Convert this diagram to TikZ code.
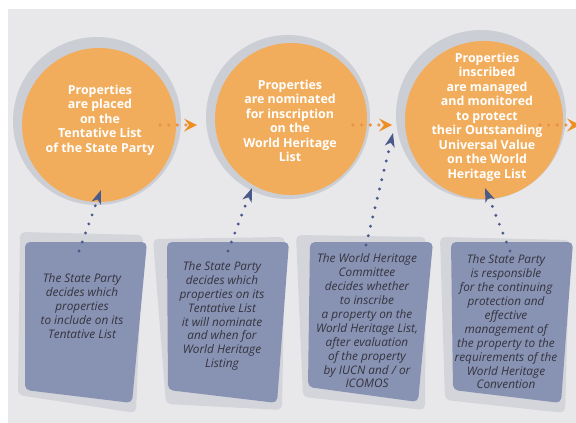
\documentclass[tikz,border=0pt]{standalone}
\usepackage{fontspec}
\setmainfont{Open Sans}
\usetikzlibrary{arrows.meta}
\definecolor{paper}{HTML}{E8E8EA}
\definecolor{ringgray}{HTML}{CBCED4}
\definecolor{discorange}{HTML}{F2AD5C}
\definecolor{floworange}{HTML}{EE8F22}
\definecolor{dotorange}{HTML}{E99444}
\definecolor{cardgray}{HTML}{D3D5DA}
\definecolor{cardblue}{HTML}{8892B3}
\definecolor{cardink}{HTML}{34343E}
\definecolor{linknavy}{HTML}{4A5A8A}
\begin{document}
\begin{tikzpicture}[
			x=1pt, y=-1pt,
			ring/.style={circle, fill=ringgray, inner sep=0pt},
			disc/.style={circle, fill=discorange, inner sep=0pt},
			disctext/.style={align=center, text=white, font=\bfseries\fontsize{12.4}{14.5}\selectfont},
			cardshadow/.style={fill=cardgray, rounded corners=5pt},
			card/.style={fill=cardblue, rounded corners=5pt},
			cardtext/.style={align=center, text=cardink, font=\itshape\fontsize{11.8}{13.9}\selectfont},
			flow/.style={draw=dotorange, line width=3.6pt, line cap=round, dash pattern=on 0pt off 8.6pt,
				-{Stealth[length=13pt, width=13pt, inset=5pt, line width=0pt, fill=floworange, color=floworange]}},
			link/.style={draw=linknavy, line width=3.2pt, line cap=round, dash pattern=on 0pt off 9.6pt,
				-{Stealth[length=14pt, width=10pt, inset=4pt, line width=0pt]}}
			]
			\useasboundingbox (0,0) rectangle (576,423);
			\clip (0,0) rectangle (576,423);
			\fill[white] (0,0) rectangle (576,423);
			\fill[paper] (8,9) rectangle (576,423);
			
			% Circles
			\node[ring, minimum size=168pt] (r1) at (97,121) {};
			\node[ring, minimum size=164pt] (r2) at (288,117) {};
			\node[ring, minimum size=170pt] (r3) at (481,115) {};
			\node[disc, minimum size=154pt] (c1) at (99,125) {};
			\node[disc, minimum size=152pt] (c2) at (291,119) {};
			\node[disc, minimum size=158pt] (c3) at (484,120) {};
			\node[disctext] (t1) at (100,120) {Properties\\are placed\\on the\\Tentative List\\of the State Party};
			\node[disctext] (t2) at (290,121) {Properties\\are nominated\\for inscription\\on the\\World Heritage\\List};
			\node[disctext] (t3) at (487,117) {Properties\\inscribed\\are managed\\and monitored\\to protect\\their Outstanding\\Universal Value\\on the World\\Heritage List};
			
			% Cards
			\fill[cardshadow] (20,232) -- (143,235) -- (136,413) -- (18,395) -- cycle;
			\fill[cardshadow] (153,239) -- (285,237) -- (282,410) -- (166,404) -- cycle;
			\fill[cardshadow] (296,235) -- (426,237) -- (425,410) -- (303,397) -- cycle;
			\fill[cardshadow] (440,237) -- (570,240) -- (565,413) -- (445,400) -- cycle;
			\fill[card] (25,242) -- (147,242) -- (132,403) -- (25,390) -- cycle;
			\fill[card] (167,242) -- (289,242) -- (277,403) -- (168,390) -- cycle;
			\fill[card] (310,242) -- (433,242) -- (418,402) -- (308,387) -- cycle;
			\fill[card] (451,242) -- (573,242) -- (561,403) -- (453,390) -- cycle;
			\node[cardtext] (b1) at (82,306) {The State Party\\decides which\\properties\\to include on its\\Tentative List};
			\node[cardtext] (b2) at (222,316) {The State Party\\decides which\\properties on its\\Tentative List\\it will nominate\\and when for\\World Heritage\\Listing};
			\node[cardtext] (b3) at (367,321) {The World Heritage\\Committee\\decides whether\\to inscribe\\a property on the\\World Heritage List,\\after evaluation\\of the property\\by IUCN and / or\\ICOMOS};
			\node[cardtext] (b4) at (506,322) {The State Party\\is responsible\\for the continuing\\protection and\\effective\\management of\\the property to the\\requirements of the\\World Heritage\\Convention};
			
			% Arrows between the steps
			\coordinate (exit) at (580,125);
			\draw[flow] ([xshift=61pt]c1.center) -- ([xshift=-94pt, yshift=-6pt]c2.center);
			\draw[flow] ([xshift=62pt, yshift=-6pt]c2.center) -- ([xshift=-92pt, yshift=-5pt]c3.center);
			\draw[flow] ([xshift=56pt, yshift=-5pt]c3.center) -- (exit);
			
			% Arrows from the cards
			\draw[link] ([xshift=-3pt, yshift=55pt]b1.center) -- ([xshift=2pt, yshift=-65pt]c1.center);
			\draw[link] ([xshift=6pt, yshift=65pt]b2.center) -- ([xshift=-39pt, yshift=-69pt]c2.center);
			\draw[link] ([xshift=-1pt, yshift=76pt]b3.center) -- ([xshift=-91pt, yshift=-13pt]c3.center);
			\draw[link] ([xshift=4pt, yshift=71pt]b4.center) -- ([xshift=1pt, yshift=-68pt]c3.center);
		\end{tikzpicture}
\end{document}
